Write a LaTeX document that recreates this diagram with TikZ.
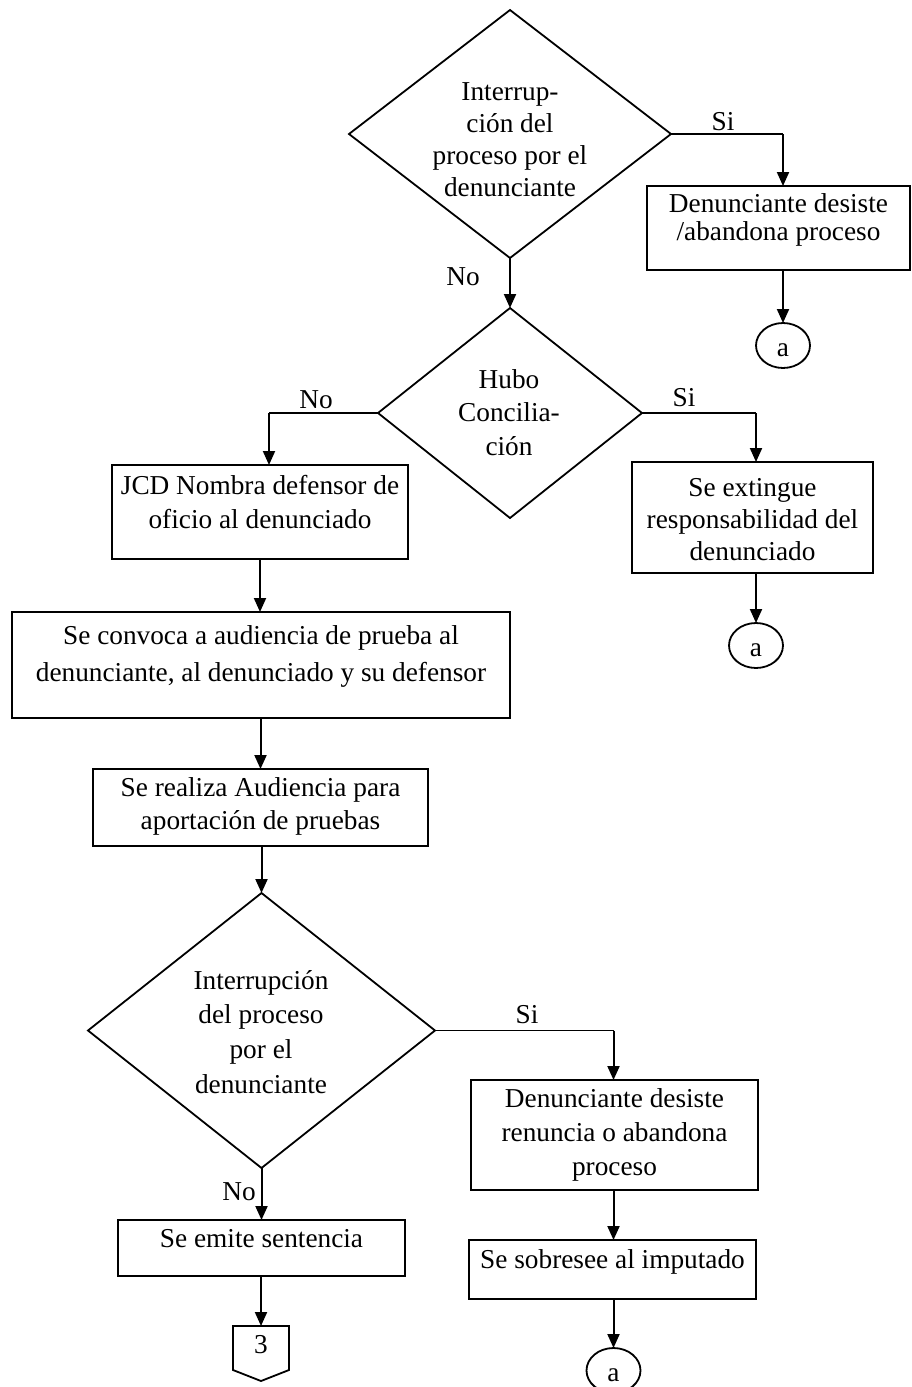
\documentclass[tikz,border=0pt]{standalone}
\usepackage{fontspec}
\setmainfont{Liberation Serif}
\usetikzlibrary{shapes.geometric,arrows.meta}
\newcommand\myfs[1]{\fontsize{27.3}{#1}\selectfont}
\begin{document}
\begin{tikzpicture}[x=1pt,y=-1pt,
  every node/.style={outer sep=0pt, font=\myfs{32}},
  dia/.style={diamond, draw, line width=1.8pt, inner sep=0pt},
  box/.style={rectangle, draw, line width=2.2pt, inner sep=0pt, align=center},
  conn/.style={ellipse, draw, line width=1.8pt, inner sep=0pt, minimum width=54pt, minimum height=45pt, text height=22pt, text depth=0pt},
  txt/.style={inner sep=0pt, align=center},
  lbl/.style={inner sep=0pt, anchor=base},
  arr/.style={line width=2pt, -{Triangle[length=14pt,width=12pt]}},
  seg/.style={line width=1.1pt},
  outline/.style={line width=1.8pt, line join=miter}
]
\useasboundingbox (0,0) rectangle (911,1387);

% decision 1
\node[dia, minimum width=322pt, minimum height=248pt] (d1) at (510,134) {};
\node[txt, font=\myfs{32}] (d1t) at (510,141.6) {\strut Interrup-\\ción del\\proceso por el\\denunciante\strut};
\node[box, minimum width=263pt, minimum height=84pt, font=\myfs{26.5}] (b1) at (778.5,228) {\strut Denunciante desiste\\/abandona proceso\strut\rule[-22pt]{0pt}{22pt}};
\node[conn] (c1) at (783,345.5) {a};

% decision 2
\node[dia, minimum width=264pt, minimum height=210pt] (d2) at (510,413) {};
\node[txt, font=\myfs{33.5}] (d2t) at (509,414.8) {\strut Hubo\\Concilia-\\ción\strut};
\node[box, minimum width=296pt, minimum height=94pt, font=\myfs{34}] (jcd) at (260,512) {\strut JCD Nombra defensor de\\oficio al denunciado\strut\rule[-25.8pt]{0pt}{25.8pt}};
\node[box, minimum width=241pt, minimum height=111pt, font=\myfs{32}] (ext) at (752.5,517.5) {\rule{0pt}{30.6pt}Se extingue\\responsabilidad del\\denunciado\strut};
\node[conn] (c2) at (756,645.5) {a};

\node[box, minimum width=498pt, minimum height=106pt, font=\myfs{37}] (conv) at (261,665) {\strut Se convoca a audiencia de prueba al\\denunciante, al denunciado y su defensor\strut\rule[-30.9pt]{0pt}{30.9pt}};
\node[box, minimum width=335pt, minimum height=77pt, font=\myfs{33}] (real) at (260.5,807.5) {\strut Se realiza Audiencia para\\aportación de pruebas\strut\rule[-13.1pt]{0pt}{13.1pt}};

% decision 3
\node[dia, minimum width=347pt, minimum height=275pt] (d3) at (261.5,1030.5) {};
\node[txt, font=\myfs{34.7}] (d3t) at (261,1034.1) {\strut Interrupción\\del proceso\\por el\\denunciante\strut};
\node[box, minimum width=287pt, minimum height=110pt, font=\myfs{34}] (des) at (614.5,1135) {\strut Denunciante desiste\\renuncia o abandona\\proceso\strut\rule[-11.8pt]{0pt}{11.8pt}};
\node[box, minimum width=287pt, minimum height=59pt, font=\myfs{32}] (sob) at (612.5,1269.5) {\strut Se sobresee al imputado\rule[-25.4pt]{0pt}{25.4pt}};
\node[conn] (c3) at (613.5,1370.5) {a};
\node[box, minimum width=287pt, minimum height=56pt, font=\myfs{32}] (emi) at (261.5,1248) {\strut Se emite sentencia\rule[-24.4pt]{0pt}{24.4pt}};

% off-page connector
\node[inner sep=0pt, minimum width=56pt, minimum height=44pt, text height=10pt, text depth=0pt] (pg) at (261,1348) {3};
\draw[outline] (pg.north west) -- (pg.south west) -- ([yshift=-11pt]pg.south) -- (pg.south east) -- (pg.north east) -- cycle;

% labels
\node[lbl] (si1) at (723,130) {Si};
\node[lbl] (no1) at (463,285) {No};
\node[lbl] (no2) at (316,408) {No};
\node[lbl] (si2) at (684,406) {Si};
\node[lbl] (si3) at (527,1023) {Si};
\node[lbl] (no3) at (239,1200) {No};

% connectors
\coordinate (k1) at (c1.north |- d1.east);
\draw[seg] (d1.east) -- (k1);
\draw[arr] (k1) -- (k1 |- b1.north);
\draw[arr] (c1.north |- b1.south) -- (c1.north);
\draw[arr] (d1.south) -- (d2.north);

\coordinate (k2) at (269,413);
\draw[seg] (d2.west) -- (k2);
\draw[arr] (k2) -- (k2 |- jcd.north);
\coordinate (k3) at (c2.north |- d2.east);
\draw[seg] (d2.east) -- (k3);
\draw[arr] (k3) -- (k3 |- ext.north);
\draw[arr] (c2.north |- ext.south) -- (c2.north);

\draw[arr] (jcd.south) -- (jcd.south |- conv.north);
\draw[arr] (real.north |- conv.south) -- (real.north);
\draw[arr] (d3.north |- real.south) -- (d3.north);

\coordinate (k4) at (c3.north |- d3.east);
\draw[seg] (d3.east) -- (k4);
\draw[arr] (k4) -- (k4 |- des.north);
\draw[arr] (c3.north |- des.south) -- (c3.north |- sob.north);
\draw[arr] (c3.north |- sob.south) -- (c3.north);

\draw[arr] (d3.south) -- (d3.south |- emi.north);
\draw[arr] (pg.north |- emi.south) -- (pg.north);
\end{tikzpicture}
\end{document}
